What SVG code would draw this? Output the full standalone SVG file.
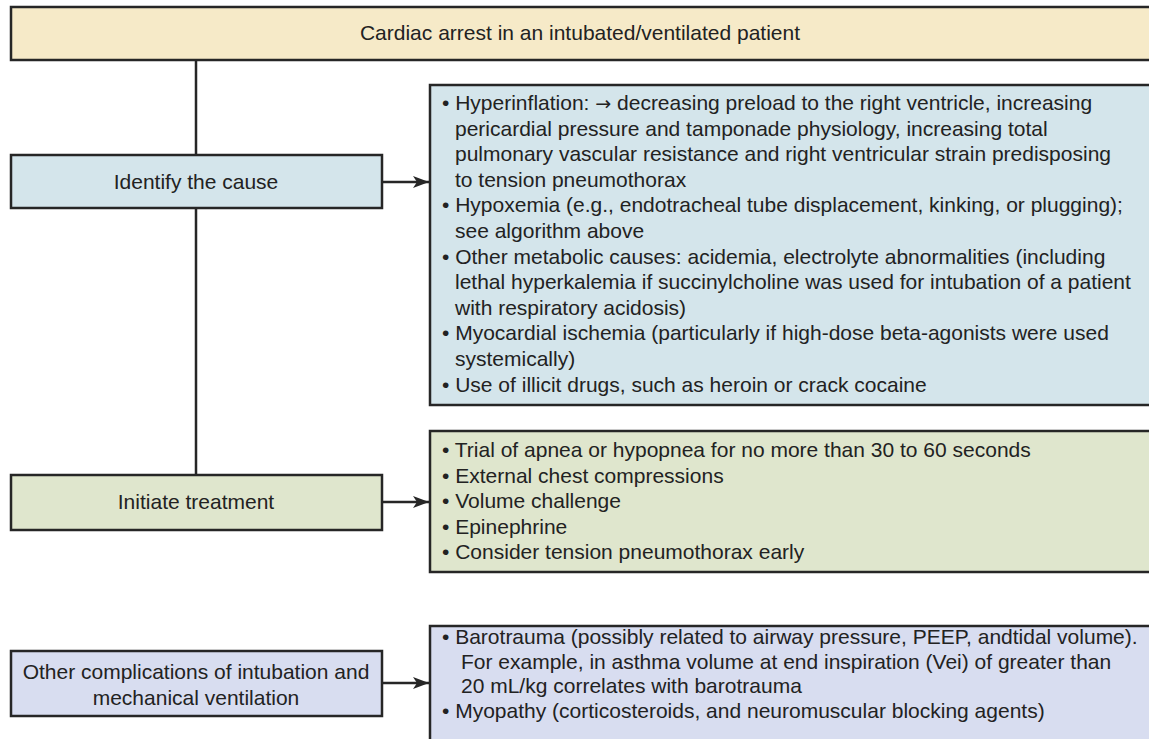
<svg xmlns="http://www.w3.org/2000/svg" width="1149" height="739" viewBox="0 0 1149 739">
  <defs>
    <style>
      .box { stroke: #262626; stroke-width: 2.5; }
      .yellow { fill: #f6eac8; }
      .blue { fill: #d4e5eb; }
      .green { fill: #dfe6cd; }
      .lav { fill: #d8ddf0; }
      text { font-family: "Liberation Sans", Arial, sans-serif; font-size: 21px; fill: #222; }
      .c { text-anchor: middle; }
      .sym { font-family: "DejaVu Sans", sans-serif; font-size: 19px; }
      .wire { stroke: #262626; stroke-width: 2.5; fill: none; }
    </style>
    <marker id="arrow" viewBox="0 0 16 12" refX="16" refY="6" markerWidth="16" markerHeight="12" markerUnits="userSpaceOnUse" orient="auto">
      <path d="M0,0 L16,6 L0,12 L4,6 Z" fill="#262626"/>
    </marker>
  </defs>
  <rect width="1149" height="739" fill="#ffffff"/>

  <!-- connectors -->
  <g id="connectors">
    <line class="wire" x1="196" y1="60" x2="196" y2="475"/>
    <line class="wire" x1="382" y1="182" x2="429" y2="182" marker-end="url(#arrow)"/>
    <line class="wire" x1="382" y1="502" x2="429" y2="502" marker-end="url(#arrow)"/>
    <line class="wire" x1="382" y1="683" x2="429" y2="683" marker-end="url(#arrow)"/>
  </g>

  <!-- title -->
  <g id="start">
    <rect class="box yellow" x="11" y="7" width="1150" height="53"/>
    <text class="c" x="580" y="40">Cardiac arrest in an intubated/ventilated patient</text>
  </g>

  <!-- step 1 -->
  <g id="identify">
    <rect class="box blue" x="11" y="155" width="371" height="53"/>
    <text class="c" x="196" y="189">Identify the cause</text>
  </g>
  <g id="causes">
    <rect class="box blue" x="430" y="85" width="730" height="320"/>
    <text x="442" y="110">• Hyperinflation: <tspan class="sym">→</tspan> decreasing preload to the right ventricle, increasing</text>
    <text x="455" y="135.6">pericardial pressure and tamponade physiology, increasing total</text>
    <text x="455" y="161.2">pulmonary vascular resistance and right ventricular strain predisposing</text>
    <text x="455" y="186.8">to tension pneumothorax</text>
    <text x="442" y="212.4">• Hypoxemia (e.g., endotracheal tube displacement, kinking, or plugging);</text>
    <text x="455" y="238">see algorithm above</text>
    <text x="442" y="263.6">• Other metabolic causes: acidemia, electrolyte abnormalities (including</text>
    <text x="455" y="289.2">lethal hyperkalemia if succinylcholine was used for intubation of a patient</text>
    <text x="455" y="314.8">with respiratory acidosis)</text>
    <text x="442" y="340.4">• Myocardial ischemia (particularly if high-dose beta-agonists were used</text>
    <text x="455" y="366">systemically)</text>
    <text x="442" y="391.6">• Use of illicit drugs, such as heroin or crack cocaine</text>
  </g>

  <!-- step 2 -->
  <g id="treat">
    <rect class="box green" x="11" y="475" width="371" height="55"/>
    <text class="c" x="196" y="509">Initiate treatment</text>
  </g>
  <g id="treatments">
    <rect class="box green" x="430" y="431" width="730" height="141"/>
    <text x="442" y="457">• Trial of apnea or hypopnea for no more than 30 to 60 seconds</text>
    <text x="442" y="482.6">• External chest compressions</text>
    <text x="442" y="508.2">• Volume challenge</text>
    <text x="442" y="533.8">• Epinephrine</text>
    <text x="442" y="559.4">• Consider tension pneumothorax early</text>
  </g>

  <!-- other complications -->
  <g id="other">
    <rect class="box lav" x="11" y="651" width="371" height="65"/>
    <text class="c" x="196" y="679">Other complications of intubation and</text>
    <text class="c" x="196" y="705">mechanical ventilation</text>
  </g>
  <g id="complications">
    <rect class="box lav" x="430" y="626" width="730" height="130"/>
    <text x="442" y="644">• Barotrauma (possibly related to airway pressure, PEEP, andtidal volume).</text>
    <text x="461" y="669">For example, in asthma volume at end inspiration (Vei) of greater than</text>
    <text x="461" y="693">20 mL/kg correlates with barotrauma</text>
    <text x="442" y="718">• Myopathy (corticosteroids, and neuromuscular blocking agents)</text>
  </g>
</svg>
